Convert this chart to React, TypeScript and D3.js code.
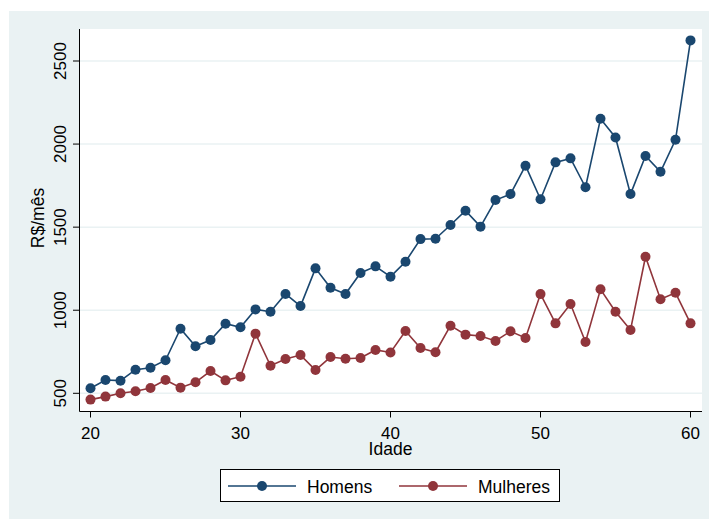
import * as d3 from 'd3';

const ages = d3.range(20, 61);
const homens = [
  530, 580, 576, 642, 654, 699, 889, 783, 821, 919, 897,
  1005, 991, 1098, 1025, 1252, 1135, 1098, 1224, 1264, 1202,
  1292, 1428, 1430, 1513, 1599, 1503, 1663, 1699, 1870, 1668,
  1890, 1914, 1740, 2152, 2040, 1699, 1928, 1833, 2026, 2624,
];
const mulheres = [
  462, 480, 500, 512, 532, 580, 534, 566, 634, 578, 600,
  859, 666, 706, 730, 640, 718, 708, 712, 761, 746,
  875, 773, 747, 907, 853, 845, 815, 873, 833, 1097,
  921, 1037, 809, 1126, 991, 881, 1322, 1066, 1105, 921,
];
const yTicks = [500, 1000, 1500, 2000, 2500];
const xTicks = [20, 30, 40, 50, 60];

const navy = '#1a476f';
const maroon = '#90353b';
const bg = '#eaf2f3';
const fontFamily = '"Liberation Sans", Arial, sans-serif';

export default function App() {
  const W = 709;
  const H = 519;
  const plot = { left: 80, right: 702, top: 29, bottom: 411 };

  const x = d3.scaleLinear().domain([20, 60]).range([90.5, 690.5]);
  const y = d3.scaleLinear().domain([500, 2500]).range([393.3, 61]);

  const line = d3
    .line<number>()
    .x((_, i) => x(ages[i]))
    .y((d) => y(d));

  const series = [
    { name: 'Homens', values: homens, fill: navy },
    { name: 'Mulheres', values: mulheres, fill: maroon },
  ];

  const legend = [
    { name: 'Homens', fill: navy, x0: 228, x1: 296, tx: 307 },
    { name: 'Mulheres', fill: maroon, x0: 399, x1: 467, tx: 478 },
  ];

  return (
    <svg
      width={W}
      height={H}
      style={{ position: 'absolute', left: 0, top: 0 }}
      fontFamily={fontFamily}
    >
      <rect x={0} y={0} width={W} height={H} fill="#fff" />
      <rect x={9} y={11} width={W - 9} height={H - 11} fill={bg} />
      <rect
        x={plot.left}
        y={plot.top}
        width={plot.right - plot.left}
        height={plot.bottom - plot.top}
        fill="#fff"
      />

      {/* gridlines */}
      {yTicks.map((t) => (
        <line
          key={t}
          x1={plot.left}
          x2={plot.right}
          y1={y(t)}
          y2={y(t)}
          stroke={bg}
          strokeWidth={1.5}
        />
      ))}

      {/* series */}
      {series.map((s) => (
        <g key={s.name}>
          <path d={line(s.values) ?? ''} fill="none" stroke={s.fill} strokeWidth={1.6} />
          {s.values.map((v, i) => (
            <circle key={i} cx={x(ages[i])} cy={y(v)} r={5} fill={s.fill} />
          ))}
        </g>
      ))}

      {/* axes */}
      <line x1={plot.left - 0.5} x2={plot.left - 0.5} y1={plot.top} y2={plot.bottom + 0.5} stroke="#000" strokeWidth={1} />
      <line x1={plot.left - 0.5} x2={plot.right} y1={plot.bottom + 0.5} y2={plot.bottom + 0.5} stroke="#000" strokeWidth={1} />

      {yTicks.map((t) => (
        <g key={t}>
          <line x1={plot.left - 7} x2={plot.left - 0.5} y1={y(t)} y2={y(t)} stroke="#000" strokeWidth={1} />
          <text
            transform={`translate(65.5,${y(t)}) rotate(-90)`}
            textAnchor="middle"
            fontSize={17}
            fill="#000"
          >
            {t}
          </text>
        </g>
      ))}

      {xTicks.map((t) => (
        <g key={t}>
          <line x1={x(t)} x2={x(t)} y1={plot.bottom + 0.5} y2={plot.bottom + 6.5} stroke="#000" strokeWidth={1} />
          <text x={x(t)} y={438.5} textAnchor="middle" fontSize={17} fill="#000">
            {t}
          </text>
        </g>
      ))}

      <text x={x(40)} y={455} textAnchor="middle" fontSize={17.5} fill="#000">
        Idade
      </text>
      <text
        transform="translate(44,218) rotate(-90)"
        textAnchor="middle"
        fontSize={17.5}
        fill="#000"
      >
        R$/mês
      </text>

      {/* legend */}
      <rect x={220.5} y={469.5} width={339} height={32} fill="#fff" stroke="#000" strokeWidth={1} />
      {legend.map((l) => (
        <g key={l.name}>
          <line x1={l.x0} x2={l.x1} y1={486} y2={486} stroke={l.fill} strokeWidth={1.6} />
          <circle cx={(l.x0 + l.x1) / 2} cy={486} r={5} fill={l.fill} />
          <text x={l.tx} y={492.5} fontSize={17.5} fill="#000">
            {l.name}
          </text>
        </g>
      ))}
    </svg>
  );
}
